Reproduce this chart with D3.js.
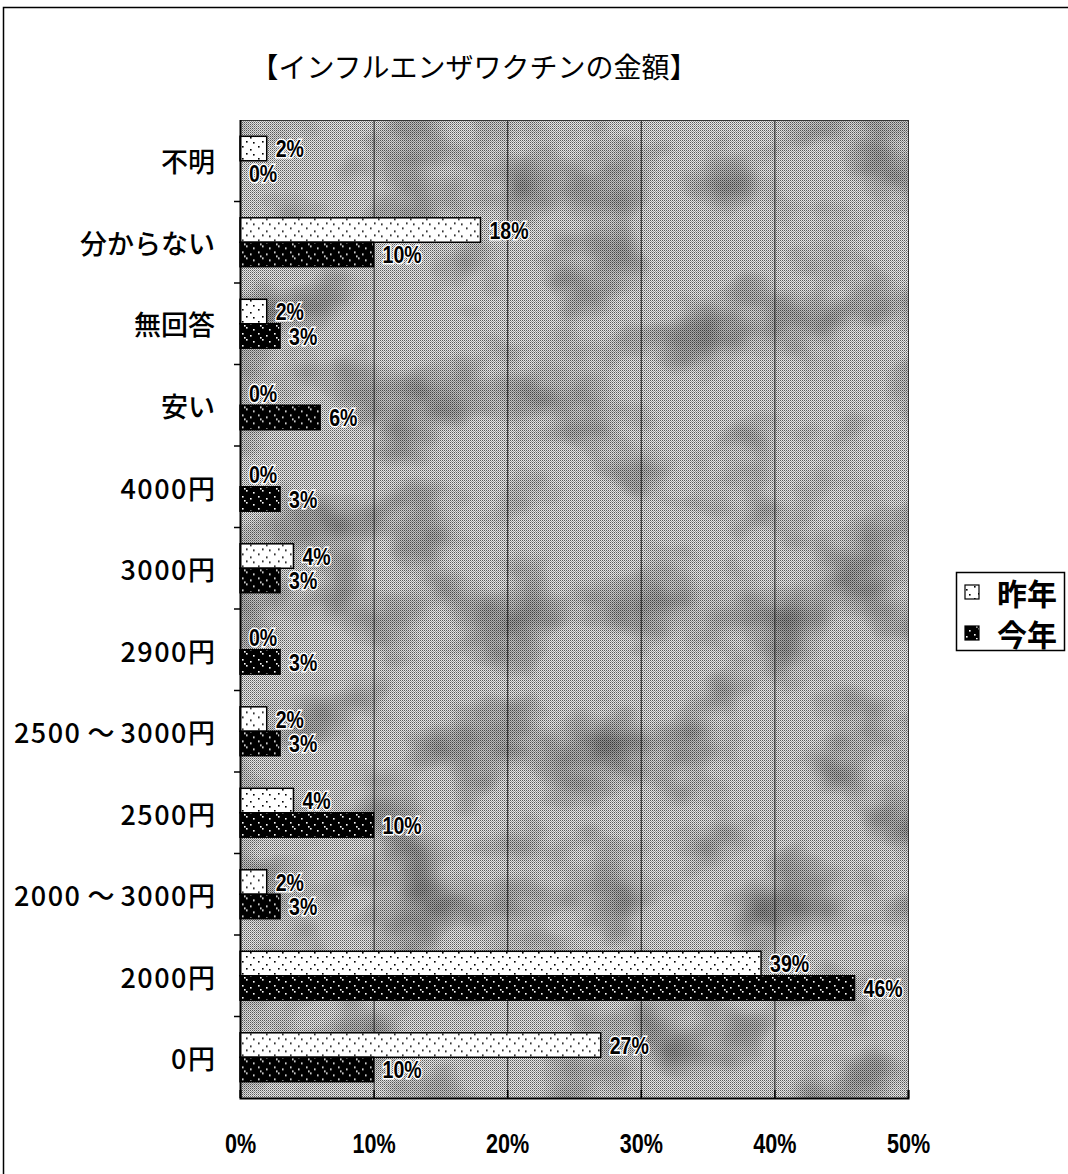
<!DOCTYPE html>
<html>
<head>
<meta charset="utf-8">
<script src="https://cdn.jsdelivr.net/npm/d3@7"></script>
<style>
  html, body { margin: 0; padding: 0; background: #fff; }
  svg { display: block; }
</style>
</head>
<body>
<svg id="chart" width="1068" height="1174"></svg>
<script>
// Survey categories, top to bottom
const categories = ["不明", "分からない", "無回答", "安い", "4000円", "3000円", "2900円",
  "2500～3000円", "2500円", "2000～3000円", "2000円", "0円"];
// Share of answers (%)
const lastYear = [2, 18, 2, 0, 0, 4, 0, 2, 4, 2, 39, 27];
const thisYear = [0, 10, 3, 6, 3, 3, 3, 3, 10, 3, 46, 10];
const seriesNames = ["昨年", "今年"];
const xTicks = [0, 10, 20, 30, 40, 50];
const title = "【インフルエンザワクチンの金額】";

const svg = d3.select("#chart");
const plot = { left: 240, right: 908, top: 120, bottom: 1098 };
const jpFont = "'Noto Sans CJK JP', 'Noto Sans', sans-serif";
const numFont = "'Liberation Sans', Arial, sans-serif";

const defs = svg.append("defs");

// Halftone-like grey fill for the plot area
const bg = defs.append("pattern").attr("id", "bgDots")
  .attr("patternUnits", "userSpaceOnUse").attr("width", 2).attr("height", 2);
bg.append("rect").attr("width", 2).attr("height", 2).attr("fill", "#e6e6e6");
bg.append("rect").attr("width", 1).attr("height", 1).attr("fill", "#5a5a5a");
bg.append("rect").attr("x", 1).attr("y", 1).attr("width", 1).attr("height", 1).attr("fill", "#9a9a9a");

// Mottled texture overlay
const mottle = defs.append("filter").attr("id", "mottle")
  .attr("x", 0).attr("y", 0).attr("width", 1).attr("height", 1);
mottle.append("feTurbulence").attr("type", "fractalNoise")
  .attr("baseFrequency", "0.011 0.014").attr("numOctaves", 3).attr("seed", 7);
mottle.append("feColorMatrix").attr("type", "matrix")
  .attr("values", "0 0 0 0 0  0 0 0 0 0  0 0 0 0 0  0 0 0 -2.2 1.2");

// Bar fills: light dotted and dark dotted
const pLight = defs.append("pattern").attr("id", "pLight")
  .attr("patternUnits", "userSpaceOnUse").attr("width", 16).attr("height", 12);
pLight.append("rect").attr("width", 16).attr("height", 12).attr("fill", "#fff");
[[2, 2], [10, 5], [6, 9], [13, 10]].forEach(([x, y]) =>
  pLight.append("rect").attr("x", x).attr("y", y).attr("width", 1.6).attr("height", 1.6).attr("fill", "#000"));

const pDark = defs.append("pattern").attr("id", "pDark")
  .attr("patternUnits", "userSpaceOnUse").attr("width", 16).attr("height", 12);
pDark.append("rect").attr("width", 16).attr("height", 12).attr("fill", "#000");
[[2, 2], [10, 4], [6, 8], [13, 10], [4, 6]].forEach(([x, y]) =>
  pDark.append("rect").attr("x", x).attr("y", y).attr("width", 1.6).attr("height", 1.6).attr("fill", "#fff"));

const fills = ["url(#pLight)", "url(#pDark)"];

// Outer frame
svg.append("rect").attr("x", 3.5).attr("y", 7.5).attr("width", 1080).attr("height", 1180)
  .attr("fill", "none").attr("stroke", "#000").attr("stroke-width", 1.5);

// Title
svg.append("text").attr("x", 474).attr("y", 66)
  .attr("text-anchor", "middle").attr("dominant-baseline", "central")
  .attr("font-family", jpFont).attr("font-size", 28).attr("font-weight", 400)
  .text(title);

// Scales
const x = d3.scaleLinear().domain([0, 50]).range([plot.left, plot.right]);
const y = d3.scaleBand().domain(categories).range([plot.top, plot.bottom]).padding(0);
const ySub = d3.scaleBand().domain(seriesNames)
  .range([y.bandwidth() * 0.2, y.bandwidth() * 0.8]).padding(0);

// Plot background
svg.append("rect").attr("x", plot.left).attr("y", plot.top)
  .attr("width", plot.right - plot.left).attr("height", plot.bottom - plot.top)
  .attr("fill", "url(#bgDots)");
svg.append("rect").attr("x", plot.left).attr("y", plot.top)
  .attr("width", plot.right - plot.left).attr("height", plot.bottom - plot.top)
  .attr("filter", "url(#mottle)").attr("opacity", 0.4);

// Vertical gridlines
svg.append("g").selectAll("line").data(xTicks.filter(t => t > 0 && t < 50)).join("line")
  .attr("x1", d => x(d) + 0.5).attr("x2", d => x(d) + 0.5)
  .attr("y1", plot.top).attr("y2", plot.bottom)
  .attr("stroke", "#222").attr("stroke-width", 1);

// Plot border
svg.append("rect").attr("x", plot.left + 0.5).attr("y", plot.top + 0.5)
  .attr("width", plot.right - plot.left).attr("height", plot.bottom - plot.top)
  .attr("fill", "none").attr("stroke", "#333").attr("stroke-width", 1);

// Bars
const series = [lastYear, thisYear];
const rows = categories.map((c, i) => ({ cat: c, vals: series.map((s, k) => ({ key: seriesNames[k], k, v: s[i] })) }));
const rowG = svg.append("g").selectAll("g").data(rows).join("g")
  .attr("transform", d => `translate(0,${y(d.cat)})`);

rowG.selectAll("rect").data(d => d.vals.filter(v => v.v > 0)).join("rect")
  .attr("x", x(0)).attr("y", d => ySub(d.key))
  .attr("width", d => x(d.v) - x(0)).attr("height", ySub.bandwidth())
  .attr("fill", d => fills[d.k]).attr("stroke", "#000").attr("stroke-width", 1.5);

// Value labels (narrow bold numerals with a white halo)
rowG.selectAll("text").data(d => d.vals).join("text")
  .attr("transform", d => `translate(${x(d.v) + 9},${ySub(d.key) + ySub.bandwidth() / 2 + 1}) scale(0.85,1)`)
  .attr("dominant-baseline", "central")
  .attr("font-family", numFont).attr("font-weight", "bold").attr("font-size", 23)
  .attr("stroke", "#fff").attr("stroke-width", 3).attr("paint-order", "stroke")
  .attr("fill", "#000")
  .text(d => d.v + "%");

// Y axis (category labels, left ticks at band edges)
svg.append("line").attr("x1", plot.left + 0.5).attr("x2", plot.left + 0.5)
  .attr("y1", plot.top).attr("y2", plot.bottom).attr("stroke", "#000").attr("stroke-width", 2);
svg.append("g").selectAll("line").data(categories.slice(1)).join("line")
  .attr("x1", plot.left - 6).attr("x2", plot.left)
  .attr("y1", d => y(d)).attr("y2", d => y(d)).attr("stroke", "#000").attr("stroke-width", 1.5);
const catText = svg.append("g").selectAll("text").data(categories).join("text")
  .attr("x", 215).attr("y", d => y(d) + y.bandwidth() / 2)
  .attr("text-anchor", "end").attr("dominant-baseline", "central")
  .attr("font-family", jpFont).attr("font-size", 27).attr("font-weight", 500);
// Wide spacing around the wave dash in range labels
catText.each(function (d) {
  const t = d3.select(this);
  const parts = d.split("～");
  if (parts.length === 1) { t.text(d); return; }
  t.append("tspan").text(parts[0]).attr("letter-spacing", 1.5);
  t.append("tspan").attr("dx", 6).text("～");
  t.append("tspan").attr("dx", 6).attr("letter-spacing", 1.5).text(parts[1].replace("円", ""));
  t.append("tspan").text("円");
});
catText.filter(d => !d.includes("～") && /\d/.test(d)).text(null).each(function (d) {
  const t = d3.select(this);
  t.append("tspan").attr("letter-spacing", 1.5).text(d.replace("円", ""));
  t.append("tspan").text("円");
});

// X axis
const xAxis = svg.append("g").attr("transform", `translate(0,${plot.bottom})`)
  .call(d3.axisBottom(x).tickValues(xTicks).tickSize(-8).tickFormat(d => d + "%"));
xAxis.select(".domain").attr("stroke", "#000").attr("stroke-width", 2);
xAxis.selectAll(".tick line").attr("stroke", "#000").attr("stroke-width", 1.5);
xAxis.selectAll(".tick text")
  .attr("x", null).attr("y", null).attr("dy", 0)
  .attr("transform", "translate(0,46) scale(0.8,1)")
  .attr("dominant-baseline", "central")
  .attr("font-family", numFont).attr("font-weight", "bold")
  .attr("font-size", 27).attr("fill", "#000");

// Legend
const legend = svg.append("g").attr("transform", "translate(956,572)");
legend.append("rect").attr("x", 0.5).attr("y", 0.5).attr("width", 108).attr("height", 78)
  .attr("fill", "#fff").attr("stroke", "#000").attr("stroke-width", 1.5);
seriesNames.forEach((name, i) => {
  const gy = 20 + i * 41;
  legend.append("rect").attr("x", 9).attr("y", gy - 7).attr("width", 14).attr("height", 14)
    .attr("fill", fills[i]).attr("stroke", "#000").attr("stroke-width", 1.2);
  legend.append("text").attr("x", 41).attr("y", gy)
    .attr("dominant-baseline", "central")
    .attr("font-family", jpFont).attr("font-size", 30).attr("font-weight", 600)
    .text(name);
});
</script>
</body>
</html>
